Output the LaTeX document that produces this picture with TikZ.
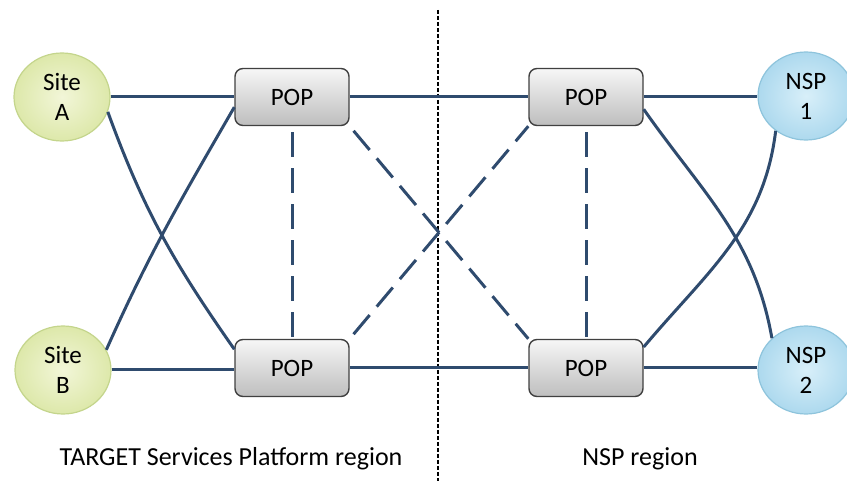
\documentclass[tikz,border=0pt]{standalone}
\usepackage{fontspec}
\setmainfont{Carlito}
\usetikzlibrary{shapes.geometric}
\definecolor{linkc}{HTML}{2F4B6E}
\definecolor{siteIn}{HTML}{F2F6D8}
\definecolor{siteOut}{HTML}{DDE8AA}
\definecolor{siteBd}{HTML}{C4D58C}
\definecolor{nspIn}{HTML}{D8EFF9}
\definecolor{nspOut}{HTML}{ADD9EE}
\definecolor{nspBd}{HTML}{8EC4DC}
\definecolor{popTop}{HTML}{F7F7F7}
\definecolor{popBot}{HTML}{BEBEBE}
\definecolor{popBd}{HTML}{404040}
\tikzset{
  site/.style={ellipse, minimum width=96pt, minimum height=88pt, inner sep=0pt,
    draw=siteBd, line width=1.2pt, shading=radial, inner color=siteIn, outer color=siteOut,
    align=center, font=\fontsize{25}{30}\selectfont},
  nsp/.style={ellipse, minimum width=96pt, minimum height=88pt, inner sep=0pt,
    draw=nspBd, line width=1.2pt, shading=radial, inner color=nspIn, outer color=nspOut,
    align=center, font=\fontsize{25}{30}\selectfont},
  pop/.style={rectangle, rounded corners=8pt, minimum width=114pt, minimum height=57pt,
    draw=popBd, line width=1.4pt, top color=popTop, bottom color=popBot,
    font=\fontsize{25}{28}\selectfont},
  link/.style={draw=linkc, line width=3pt},
  dlink/.style={draw=linkc, line width=3pt, dash pattern=on 25pt off 11pt, dash phase=-6pt},
  divider/.style={draw=black, line width=1.8pt, dash pattern=on 4pt off 2pt},
  region/.style={font=\fontsize{26}{30}\selectfont, inner sep=0pt}
}
\begin{document}
\begin{tikzpicture}[x=1pt,y=-1pt]
\useasboundingbox (0,0) rectangle (847,481);
\coordinate (divtop) at (438,10);
\coordinate (divbot) at (438,481);
\draw[divider] (divtop) -- (divbot);

\node[site] (siteA) at (62,97) {Site\\A};
\node[site] (siteB) at (63,370) {Site\\B};
\node[nsp] (nsp1) at (806,96) {NSP\\1};
\node[nsp] (nsp2) at (806,370) {NSP\\2};
\node[pop] (popTL) at (292,97) {POP};
\node[pop] (popBL) at (292,368) {POP};
\node[pop] (popTR) at (586,97) {POP};
\node[pop] (popBR) at (586,368) {POP};

% solid links
\draw[link] (siteA.east) -- (siteA.east -| popTL.west);
\draw[link] (siteB.east) -- (siteB.east -| popBL.west);
\draw[link] (popTL.east) -- (popTR.west);
\draw[link] (popBL.east) -- (popBR.west);
\draw[link] (popTR.east) -- (popTR.east -| nsp1.west);
\draw[link] (popBR.east) -- (popBR.east -| nsp2.west);
\draw[link] (siteA.-18) to[out=-70, in=125] (popBL.162);
\draw[link] (siteB.25) to[out=66, in=-120] (popTL.190);
\draw[link] (popTR.-12) to[out=-55, in=100] (nsp2.137);
\draw[link] (popBR.20) to[out=50, in=-97] (nsp1.229);

% dashed links
\draw[dlink] (popTL.south) -- (popBL.north);
\draw[dlink] (popTR.south) -- (popBR.north);
\draw[dlink] (popTL.south east) -- (popBR.north west);
\draw[dlink] (popBL.north east) -- (popTR.south west);

\node[region] (regL) at (231,459) {TARGET Services Platform region};
\node[region] (regR) at (640,459) {NSP region};
\end{tikzpicture}
\end{document}
